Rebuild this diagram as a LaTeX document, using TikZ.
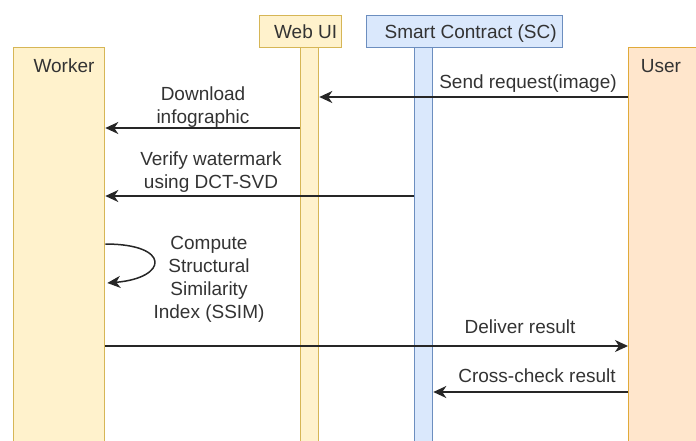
\documentclass[tikz,border=0pt]{standalone}
\usepackage{fontspec}
\setmainfont{Liberation Sans}
\usetikzlibrary{arrows.meta,positioning}
\definecolor{ylwfill}{HTML}{FFF2CC}
\definecolor{ylwline}{HTML}{D6B656}
\definecolor{bluefill}{HTML}{DAE8FC}
\definecolor{blueline}{HTML}{6C8EBF}
\definecolor{orgfill}{HTML}{FFE6CC}
\definecolor{orgline}{HTML}{E0AA3A}
\definecolor{txtgray}{HTML}{333333}
\begin{document}
\begin{tikzpicture}[x=1pt,y=-1pt,>={Stealth[length=13pt,width=12pt,inset=4pt]},
  font=\fontsize{19}{23}\selectfont,text=txtgray]
\tikzstyle{box}=[rectangle,draw,line width=1.3pt,anchor=north west,inner sep=0pt]
\tikzstyle{yellow}=[fill=ylwfill,draw=ylwline]
\tikzstyle{blue}=[fill=bluefill,draw=blueline]
\tikzstyle{orange}=[fill=orgfill,draw=orgline]
\tikzstyle{hdr}=[box,minimum height=32pt,text height=13.6pt,text depth=0pt]
\tikzstyle{bar}=[box,minimum width=18pt,minimum height=400pt]
\tikzstyle{msg}=[->,line width=1.5pt,draw=black!85]
\tikzstyle{lbl}=[inner sep=0pt,align=center]

\useasboundingbox (0,0) rectangle (696,440);

% lifelines
\node[box,yellow,minimum width=91pt,minimum height=400pt] (worker) at (13,47) {};
\node[lbl,anchor=base] (workername) at (64,72) {Worker};
\node[hdr,yellow,minimum width=82pt] (webui) at (259,15) {\hspace*{10pt}Web UI};
\node[bar,yellow] (webbar) at (300,47) {};
\node[hdr,blue,minimum width=196pt] (sc) at (366,15) {\hspace*{12pt}Smart Contract (SC)};
\node[bar,blue] (scbar) at (414,47) {};
\node[box,orange,minimum width=80pt,minimum height=400pt] (user) at (628,47) {};
\node[lbl,anchor=base] (username) at (661,72) {User};

% message levels
\coordinate (m1) at (0,97);
\coordinate (m2) at (0,128);
\coordinate (m3) at (0,196);
\coordinate (m4) at (0,244);
\coordinate (m5) at (0,283);
\coordinate (m6) at (0,346);
\coordinate (m7) at (0,392);

\draw[msg] (user.west |- m1) -- (webbar.east |- m1);
\node[lbl,anchor=base] (sendlbl) at (528,88) {Send request(image)};

\draw[msg] (webbar.west |- m2) -- (worker.east |- m2);
\node[lbl,anchor=north] (downlbl) at (203,87) {Download\\infographic};

\draw[msg] (scbar.west |- m3) -- (worker.east |- m3);
\node[lbl,anchor=north] (verifylbl) at (211,152) {Verify watermark\\using DCT-SVD};

% self call on worker
\draw[msg] (worker.east |- m4) .. controls +(66,0) and +(61,-5) .. ([xshift=2pt]worker.east |- m5);
\node[lbl,anchor=north] (ssimlbl) at (209,236) {Compute\\Structural\\Similarity\\Index (SSIM)};

\draw[msg] (worker.east |- m6) -- (user.west |- m6);
\node[lbl,anchor=base] (deliverlbl) at (520,333) {Deliver result};

\draw[msg] (user.west |- m7) -- (scbar.east |- m7);
\node[lbl,anchor=base] (checklbl) at (537,382) {Cross-check result};
\end{tikzpicture}
\end{document}
